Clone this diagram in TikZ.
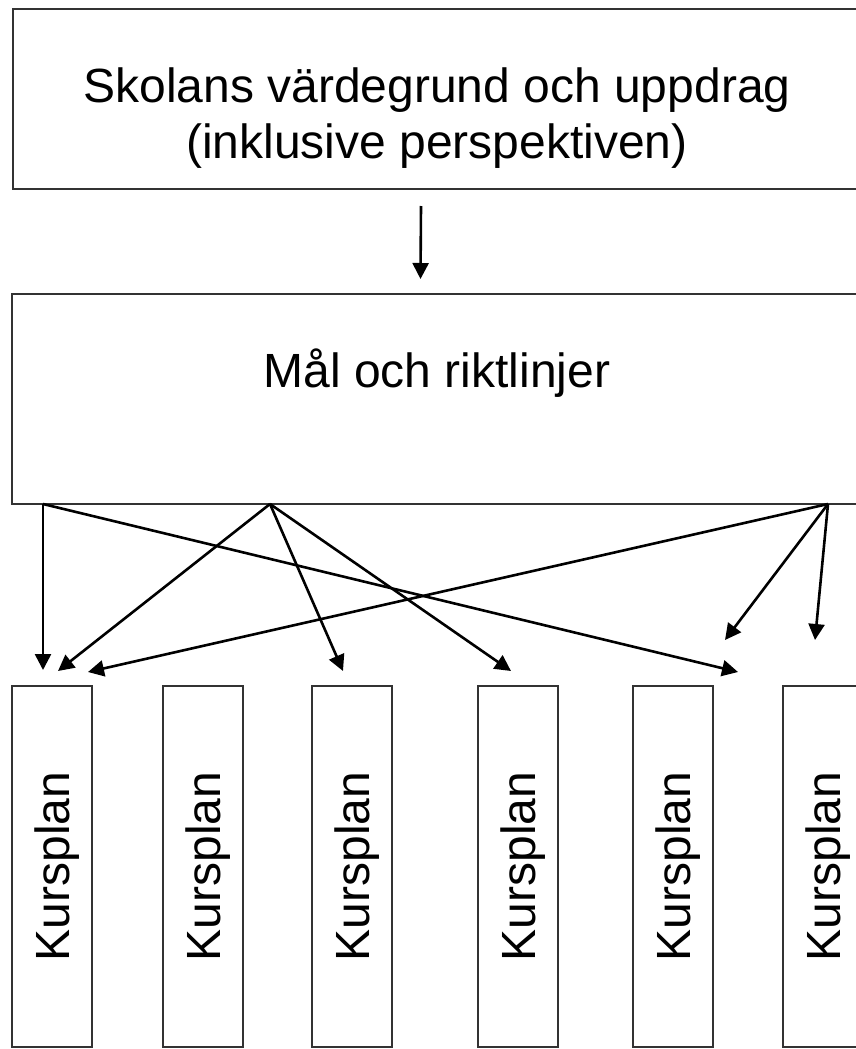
\documentclass[tikz,border=0pt]{standalone}
\usepackage{fontspec}
\setmainfont{Liberation Sans}
\usetikzlibrary{arrows.meta, positioning}

\begin{document}
\begin{tikzpicture}[x=0.5pt, y=-0.5pt,
    box/.style={draw=black!80, line width=1pt, rectangle, inner sep=0pt},
    kurs/.style={box, rotate=90, minimum width=180.5pt, minimum height=40pt, text depth=0pt},
    pil/.style={line width=1.3pt, -{Triangle[length=8pt, width=8pt]}}]
            \fontsize{24pt}{28pt}\selectfont
            \clip (0,0) rectangle (856,1049);

            % Draw the boxes
            \node[box, minimum width=424pt, minimum height=90pt] (vard) at (437,99) {};
            \node[align=center, inner sep=0pt] (vardtext) at (437,118) {Skolans värdegrund och uppdrag\\(inklusive perspektiven)};
            \node[box, minimum width=424.5pt, minimum height=105pt] (mal) at (436.5,399) {};
            \node[anchor=base, inner sep=0pt] (maltext) at (437,387) {Mål och riktlinjer};
            \foreach \x [count=\i] in {52,203,352,518,673,823}
                \node[kurs] (k\i) at (\x,866.5) {Kursplan};

            % Start and end points of the arrows
            \coordinate (s1) at (43,504);
            \coordinate (s2) at (270,504);
            \coordinate (s3) at (828,504);
            \coordinate (t1) at (43,670);
            \coordinate (t2) at (58,671);
            \coordinate (t3) at (88,672);
            \coordinate (t4) at (343,671);
            \coordinate (t5) at (511,671);
            \coordinate (t6) at (725,640);
            \coordinate (t7) at (738,672);
            \coordinate (t8) at (815,640);

            % Draw the arrows
            \draw[pil] ([xshift=-8pt, yshift=-8pt]vard.south) -- ([xshift=-8pt, yshift=7pt]mal.north);
            \draw[pil] (s1) -- (t1);
            \draw[pil] (s1) -- (t7);
            \draw[pil] (s2) -- (t2);
            \draw[pil] (s2) -- (t4);
            \draw[pil] (s2) -- (t5);
            \draw[pil] (s3) -- (t3);
            \draw[pil] (s3) -- (t6);
            \draw[pil] (s3) -- (t8);
        \end{tikzpicture}
\end{document}
